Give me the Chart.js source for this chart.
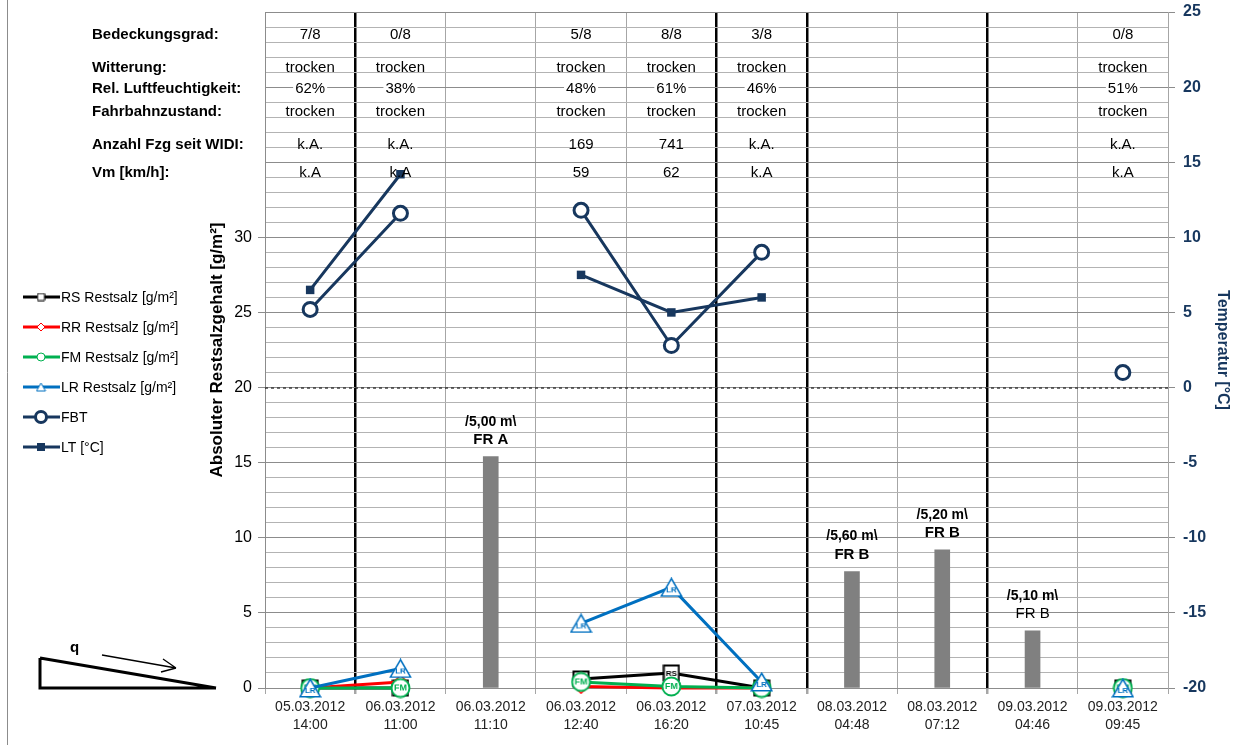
<!DOCTYPE html>
<html>
<head>
<meta charset="utf-8">
<script src="https://cdn.jsdelivr.net/npm/chart.js@4.4.1/dist/chart.umd.min.js"></script>
<style>
  html, body { margin: 0; padding: 0; background: #fff; }
  #wrap { position: relative; width: 1250px; height: 745px; }
</style>
</head>
<body>
<div id="wrap"><canvas id="myChart" width="1250" height="745"></canvas></div>
<script>
// --- data ---
const categories = [
  ['05.03.2012', '14:00'],
  ['06.03.2012', '11:00'],
  ['06.03.2012', '11:10'],
  ['06.03.2012', '12:40'],
  ['06.03.2012', '16:20'],
  ['07.03.2012', '10:45'],
  ['08.03.2012', '04:48'],
  ['08.03.2012', '07:12'],
  ['09.03.2012', '04:46'],
  ['09.03.2012', '09:45']
];

const rsSalt  = [0, 0,   null, 0.6, 1.0, 0,   null, null, null, 0];
const rrSalt  = [0, 0.4, null, 0.1, 0,   0,   null, null, null, 0];
const fmSalt  = [0, 0,   null, 0.4, 0.1, 0,   null, null, null, 0];
const lrSalt  = [0, 1.3, null, 4.3, 6.7, 0.4, null, null, null, 0];
const fbtTemp = [5.2, 11.6, null, 11.8, 2.8, 9.0, null, null, null, 1.0];
const ltTemp  = [6.5, 14.2, null, 7.5,  5.0, 6.0, null, null, null, null];
const spreadBars = [null, null, 15.4, null, null, null, 7.75, 9.2, 3.8, null];

const barLabelTop    = ['', '', '/5,00 m\\', '', '', '', '/5,60 m\\', '/5,20 m\\', '/5,10 m\\', ''];
const barLabelBottom = ['', '', 'FR A', '', '', '', 'FR B', 'FR B', 'FR B', ''];

const rowTitles = ['Bedeckungsgrad:', 'Witterung:', 'Rel. Luftfeuchtigkeit:', 'Fahrbahnzustand:', 'Anzahl Fzg seit WIDI:', 'Vm [km/h]:'];
const bedeckungsgrad = ['7/8', '0/8', '', '5/8', '8/8', '3/8', '', '', '', '0/8'];
const witterung      = ['trocken', 'trocken', '', 'trocken', 'trocken', 'trocken', '', '', '', 'trocken'];
const luftfeuchte    = ['62%', '38%', '', '48%', '61%', '46%', '', '', '', '51%'];
const fahrbahn       = ['trocken', 'trocken', '', 'trocken', 'trocken', 'trocken', '', '', '', 'trocken'];
const anzahlFzg      = ['k.A.', 'k.A.', '', '169', '741', 'k.A.', '', '', '', 'k.A.'];
const vmKmh          = ['k.A', 'k.A', '', '59', '62', 'k.A', '', '', '', 'k.A'];

const leftLabelMax = 30;

// --- look ---
const FONT = "'Liberation Sans', Arial, sans-serif";
const NAVY = '#17375E';
const BLUE = '#0070C0';
const GREEN = '#00B050';
const RED = '#FF0000';

Chart.defaults.font.family = FONT;

function markerCanvas(kind, text, color, w, h, fontPx, lw) {
  const c = document.createElement('canvas');
  c.width = w; c.height = h;
  const g = c.getContext('2d');
  g.fillStyle = '#fff';
  g.strokeStyle = color;
  g.lineWidth = lw;
  g.beginPath();
  const p = lw / 2 + 0.5;
  if (kind === 'square') g.rect(p, p, w - 2 * p, h - 2 * p);
  else if (kind === 'circle') g.arc(w / 2, h / 2, w / 2 - p, 0, Math.PI * 2);
  else if (kind === 'triangle') { g.moveTo(w / 2, p); g.lineTo(w - p, h - p); g.lineTo(p, h - p); g.closePath(); }
  else if (kind === 'diamond') { g.moveTo(w / 2, p); g.lineTo(w - p, h / 2); g.lineTo(w / 2, h - p); g.lineTo(p, h / 2); g.closePath(); }
  g.fill();
  g.stroke();
  if (text) {
    g.fillStyle = color;
    g.font = 'bold ' + fontPx + 'px ' + FONT;
    g.textAlign = 'center';
    g.textBaseline = 'middle';
    g.fillText(text, w / 2, kind === 'triangle' ? h * 0.66 : h / 2 + 0.5);
  }
  return c;
}

const rsMarker = markerCanvas('square', 'RS', '#000', 18, 18, 8, 2);
const rrMarker = markerCanvas('diamond', 'RR', RED, 16, 16, 5, 1.5);
const fmMarker = markerCanvas('circle', 'FM', GREEN, 21, 21, 9, 2);
const lrMarker = markerCanvas('triangle', 'LR', BLUE, 23, 20, 8, 1.5);

const legendIcons = [
  markerCanvas('square', '', '#000', 9, 9, 0, 1),
  markerCanvas('diamond', '', RED, 10, 10, 0, 1),
  markerCanvas('circle', '', GREEN, 10, 10, 0, 1),
  markerCanvas('triangle', '', BLUE, 11, 10, 0, 1),
  null,
  null
];

function lineSet(label, data, color, marker, order) {
  return {
    type: 'line', label, data, yAxisID: 'y',
    borderColor: color, backgroundColor: color, borderWidth: 3,
    pointStyle: marker, pointRadius: 9, spanGaps: false, clip: false, order
  };
}

const datasets = [
  lineSet('RS Restsalz [g/m²]', rsSalt, '#000', rsMarker, 4),
  lineSet('RR Restsalz [g/m²]', rrSalt, RED, rrMarker, 3),
  lineSet('FM Restsalz [g/m²]', fmSalt, GREEN, fmMarker, 2),
  lineSet('LR Restsalz [g/m²]', lrSalt, BLUE, lrMarker, 1),
  {
    type: 'line', label: 'FBT', data: fbtTemp, yAxisID: 'yT',
    borderColor: NAVY, borderWidth: 3, pointStyle: 'circle', pointRadius: 7,
    pointBorderWidth: 3, pointBackgroundColor: '#fff', pointBorderColor: NAVY,
    spanGaps: false, clip: false, order: 0
  },
  {
    type: 'line', label: 'LT [°C]', data: ltTemp, yAxisID: 'yT',
    borderColor: NAVY, backgroundColor: NAVY, borderWidth: 3, pointStyle: 'rect', pointRadius: 6,
    pointBorderWidth: 0, pointBackgroundColor: NAVY,
    spanGaps: false, clip: false, order: 0
  },
  {
    type: 'bar', label: 'FR', data: spreadBars, yAxisID: 'y',
    backgroundColor: '#808080', barThickness: 15, order: 9
  }
];

// day change -> thick divider
function isDayBreak(i) {
  return i > 0 && i < categories.length && categories[i][0] !== categories[i - 1][0];
}

const extrasPlugin = {
  id: 'extras',
  beforeDatasetsDraw(chart) {
    const { ctx, chartArea, scales } = chart;
    const y0 = scales.yT.getPixelForValue(0);
    ctx.save();
    ctx.strokeStyle = '#000';
    ctx.lineWidth = 1;
    ctx.setLineDash([3, 3]);
    ctx.beginPath();
    ctx.moveTo(chartArea.left, y0 + 0.5);
    ctx.lineTo(chartArea.right, y0 + 0.5);
    ctx.stroke();
    ctx.restore();
  },
  afterDatasetsDraw(chart) {
    const { ctx } = chart;
    const meta = chart.getDatasetMeta(datasets.length - 1);
    ctx.save();
    ctx.fillStyle = '#000';
    ctx.textAlign = 'center';
    ctx.textBaseline = 'middle';
    meta.data.forEach((bar, i) => {
      if (spreadBars[i] == null) return;
      ctx.font = 'bold 14px ' + FONT;
      ctx.fillText(barLabelTop[i], bar.x, bar.y - 35);
      ctx.font = (i === 8 ? '' : 'bold ') + '15px ' + FONT;
      ctx.fillText(barLabelBottom[i], bar.x, bar.y - 17);
    });
    ctx.restore();
  },
  afterDraw(chart) {
    const { ctx, scales } = chart;
    const rows = [bedeckungsgrad, witterung, luftfeuchte, fahrbahn, anzahlFzg, vmKmh];
    const rowLevels = [43.6, 41.4, 40.0, 38.5, 36.3, 34.4];
    ctx.save();
    ctx.textBaseline = 'middle';
    rows.forEach((row, r) => {
      const y = scales.y.getPixelForValue(rowLevels[r]) + 2;
      ctx.fillStyle = '#000';
      ctx.textAlign = 'left';
      ctx.font = 'bold 15px ' + FONT;
      ctx.fillText(rowTitles[r], 92, y);
      ctx.font = '15px ' + FONT;
      ctx.textAlign = 'center';
      row.forEach((txt, i) => {
        if (!txt) return;
        const x = scales.x.getPixelForValue(i);
        ctx.fillStyle = '#fff';
        const w = ctx.measureText(txt).width;
        if (r === 2) ctx.fillRect(x - w / 2 - 2, y - 6, w + 4, 11);
        ctx.fillStyle = '#000';
        ctx.fillText(txt, x, y);
      });
    });

    // legend
    ctx.font = '14px ' + FONT;
    ctx.textAlign = 'left';
    let ly = 297;
    datasets.forEach((ds, i) => {
      if (ds.type !== 'line') return;
      ctx.strokeStyle = ds.borderColor;
      ctx.lineWidth = 3;
      ctx.beginPath();
      ctx.moveTo(23, ly); ctx.lineTo(60, ly);
      ctx.stroke();
      const icon = legendIcons[i];
      if (icon) {
        ctx.drawImage(icon, 41 - icon.width / 2, ly - icon.height / 2);
      } else if (ds.pointStyle === 'circle') {
        ctx.fillStyle = '#fff';
        ctx.lineWidth = 3;
        ctx.beginPath(); ctx.arc(41, ly, 5.5, 0, Math.PI * 2); ctx.fill(); ctx.stroke();
      } else {
        ctx.fillStyle = NAVY;
        ctx.fillRect(37, ly - 4, 8, 8);
      }
      ctx.fillStyle = '#000';
      ctx.fillText(ds.label, 61, ly + 1);
      ly += 30;
    });

    // slope sketch (bottom left)
    ctx.strokeStyle = '#000';
    ctx.lineWidth = 3;
    ctx.beginPath();
    ctx.moveTo(40, 658); ctx.lineTo(40, 688); ctx.lineTo(216, 688);
    ctx.moveTo(40, 658); ctx.lineTo(216, 688);
    ctx.stroke();
    ctx.lineWidth = 1.3;
    ctx.beginPath();
    ctx.moveTo(102, 655); ctx.lineTo(176, 668);
    ctx.moveTo(176, 668); ctx.lineTo(163, 659);
    ctx.moveTo(176, 668); ctx.lineTo(161, 672);
    ctx.stroke();
    ctx.fillStyle = '#000';
    ctx.font = 'bold 15px ' + FONT;
    ctx.fillText('q', 70, 648);

    // outer frame line
    ctx.strokeStyle = '#8c8c8c';
    ctx.lineWidth = 1;
    ctx.beginPath(); ctx.moveTo(7.5, 0); ctx.lineTo(7.5, 745); ctx.stroke();
    ctx.restore();
  }
};

new Chart(document.getElementById('myChart').getContext('2d'), {
  type: 'bar',
  data: { labels: categories, datasets },
  options: {
    responsive: false,
    animation: false,
    layout: { padding: { left: 205, right: 0, top: 12, bottom: 0 } },
    plugins: { legend: { display: false }, tooltip: { enabled: false } },
    scales: {
      x: {
        offset: true,
        grid: {
          offset: true,
          color: ctx => isDayBreak(ctx.index) ? '#000' : '#a6a6a6',
          lineWidth: ctx => isDayBreak(ctx.index) ? 2.5 : 1,
          tickColor: '#a6a6a6',
          tickLength: 6
        },
        border: { color: '#8c8c8c' },
        ticks: { color: '#222', font: { size: 14, lineHeight: 1.3 }, padding: 4, maxRotation: 0, autoSkip: false },
        afterFit: s => { s.height = 57; s.paddingLeft = 0; s.paddingRight = 0; }
      },
      y: {
        position: 'left',
        min: 0, max: 45,
        afterBuildTicks: s => {
          s.ticks = [];
          for (let v = 0; v <= 45; v++) s.ticks.push({ value: v });
        },
        ticks: {
          autoSkip: false,
          color: '#000',
          font: { size: 16 },
          padding: 6,
          callback: v => (v % 5 === 0 && v <= leftLabelMax) ? String(v) : ''
        },
        grid: {
          color: ctx => ctx.tick && ctx.tick.value % 5 === 0 ? '#8c8c8c' : '#b3b3b3',
          tickColor: ctx => ctx.tick && ctx.tick.value % 5 === 0 && ctx.tick.value <= leftLabelMax ? '#8c8c8c' : 'rgba(0,0,0,0)',
          tickLength: 7
        },
        border: { color: '#8c8c8c' },
        title: {
          display: true,
          text: 'Absoluter Restsalzgehalt [g/m²]',
          color: '#000',
          font: { size: 17, weight: 'bold' },
          padding: { top: 2, bottom: 0 }
        },
        afterFit: s => { s.width = 60; s.paddingTop = 0; s.paddingBottom = 0; }
      },
      yT: {
        position: 'right',
        min: -20, max: 25,
        ticks: { stepSize: 5, color: NAVY, font: { size: 16, weight: 'bold' }, padding: 8 },
        grid: { drawOnChartArea: false, color: '#8c8c8c', tickLength: 7 },
        border: { color: '#a6a6a6' },
        title: {
          display: true,
          text: 'Temperatur [°C]',
          color: NAVY,
          font: { size: 16, weight: 'bold' },
          padding: { top: 18, bottom: 0 }
        },
        afterFit: s => { s.width = 82; s.paddingTop = 0; s.paddingBottom = 0; }
      }
    }
  },
  plugins: [extrasPlugin]
});
</script>
</body>
</html>
